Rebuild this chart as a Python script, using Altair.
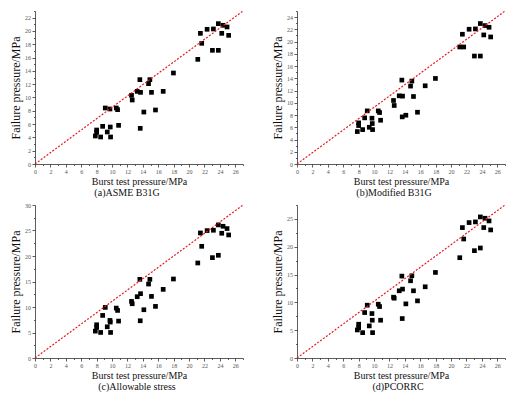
import altair as alt
import pandas as pd

# Burst test pressure (MPa) shared by all four panels
burst = [7.83, 8.0, 8.0, 8.52, 8.78, 9.12, 9.38, 9.73, 9.77, 9.81, 10.55, 10.72, 10.85,
         12.53, 12.62, 13.27, 13.61, 13.70, 13.66, 14.13, 14.74, 14.91, 15.12, 15.64,
         16.64, 17.97, 21.13, 21.47, 21.64, 22.34, 23.03, 23.16, 23.80, 23.80, 24.24,
         24.41, 24.93, 25.14]

asme_b31g = [4.21, 5.11, 4.76, 4.06, 5.66, 8.42, 4.81, 8.27, 5.56, 4.06, 8.42, 8.17, 5.81,
             10.32, 9.62, 10.92, 12.68, 10.77, 5.36, 7.81, 12.08, 12.68, 10.77, 8.12,
             10.92, 13.68, 15.73, 19.64, 18.14, 20.25, 17.09, 20.3, 21.1, 17.09, 19.64,
             20.85, 20.6, 19.34]

modified_b31g = [5.3, 6.72, 6.28, 5.62, 7.54, 8.68, 6.0, 7.48, 6.61, 5.62, 8.68, 8.41, 7.15,
                 10.38, 9.56, 11.14, 13.71, 11.09, 7.7, 7.97, 12.73, 13.55, 11.03, 8.46,
                 12.78, 13.98, 19.12, 21.2, 19.12, 22.02, 17.64, 22.07, 22.95, 17.64, 21.09,
                 22.62, 22.34, 20.76]

allowable_stress = [5.27, 6.52, 5.99, 5.01, 8.35, 9.92, 6.12, 7.37, 7.04, 5.01, 9.79, 9.33, 7.24,
                    11.1, 10.64, 12.02, 15.42, 12.61, 7.3, 9.46, 14.5, 15.42, 12.08, 10.12,
                    13.46, 15.49, 18.63, 24.52, 21.9, 24.98, 19.68, 25.05, 26.1, 20.14, 24.46,
                    25.83, 25.38, 24.13]

pcorrc = [5.04, 6.07, 5.46, 4.56, 8.17, 9.49, 5.77, 7.99, 6.79, 4.56, 9.67, 9.25, 6.79,
          10.93, 10.75, 12.08, 14.72, 12.38, 7.09, 9.73, 13.88, 14.78, 12.08, 10.27,
          12.8, 15.38, 18.03, 23.44, 21.39, 24.34, 19.29, 24.46, 25.36, 19.77, 23.44,
          25.12, 24.64, 23.02]

x_max = 27
panels = [
    # values, y max, minor step, major step, title, title dx
    (asme_b31g, 23, 1, 2, "(a)ASME B31G", -12),
    (modified_b31g, 25, 1, 2, "(b)Modified B31G", -7),
    (allowable_stress, 30, 2.5, 5, "(c)Allowable stress", -2),
    (pcorrc, 27.5, 2.5, 5, "(d)PCORRC", -3),
]

FONT = "Liberation Serif"


def make_panel(values, ymax, minor, major, title, dx):
    df = pd.DataFrame({"burst": burst, "fail": values})
    ref = pd.DataFrame({"burst": [0, x_max], "fail": [0, ymax]})
    n = int(round(ymax / minor))
    yvals = [round(i * minor, 3) for i in range(n + 1)]
    xvals = list(range(0, x_max + 1))
    xs = alt.Scale(domain=[0, x_max], nice=False)
    ys = alt.Scale(domain=[0, ymax], nice=False)
    xaxis = alt.Axis(
        values=xvals,
        labelExpr="datum.value % 2 === 0 ? datum.label : ''",
        tickSize={"condition": {"test": "datum.value % 2 === 0", "value": 3}, "value": 1.5},
        labelOverlap=False,
        labelFlush=False,
        title="Burst test pressure/MPa",
        titleFontSize=10,
        titlePadding=2,
        grid=False,
    )
    yaxis = alt.Axis(
        values=yvals,
        labelExpr=f"datum.value % {major} === 0 ? datum.label : ''",
        tickSize={"condition": {"test": f"datum.value % {major} === 0", "value": 3}, "value": 1.5},
        labelOverlap=False,
        labelFlush=False,
        title="Failure pressure/MPa",
        titleFontSize=12,
        titlePadding=2,
        grid=False,
    )
    pts = alt.Chart(df).mark_square(size=22, color="black", opacity=1).encode(
        x=alt.X("burst:Q", scale=xs, axis=xaxis),
        y=alt.Y("fail:Q", scale=ys, axis=yaxis),
    )
    line = alt.Chart(ref).mark_line(color="#e8191f", strokeDash=[2, 1.6], strokeWidth=1.2).encode(
        x=alt.X("burst:Q", scale=xs, axis=xaxis),
        y=alt.Y("fail:Q", scale=ys, axis=yaxis),
    )
    return alt.layer(pts, line).properties(
        width=208,
        height=153,
        title=alt.TitleParams(
            text=title, orient="bottom", font=FONT, fontSize=10, fontWeight="normal",
            color="#111", offset=1, dx=dx, anchor="middle",
        ),
    )


charts = [make_panel(*p) for p in panels]

chart = alt.concat(
    *charts, columns=2, spacing={"row": 41, "column": 54}, bounds="flush"
).properties(
    padding={"left": 1, "top": 0, "right": 5, "bottom": 0},
    background="white",
).configure_view(
    stroke=None
).configure_axis(
    domainColor="#333",
    tickColor="#333",
    labelColor="#555",
    labelFont=FONT,
    labelFontSize=6,
    labelPadding=1.5,
    labelOverlap=False,
    titleFont=FONT,
    titleFontWeight="normal",
    titleColor="#111",
    domainWidth=0.8,
    tickWidth=0.8,
)

chart.save("out.html", embed_options={"renderer": "svg", "actions": False})
